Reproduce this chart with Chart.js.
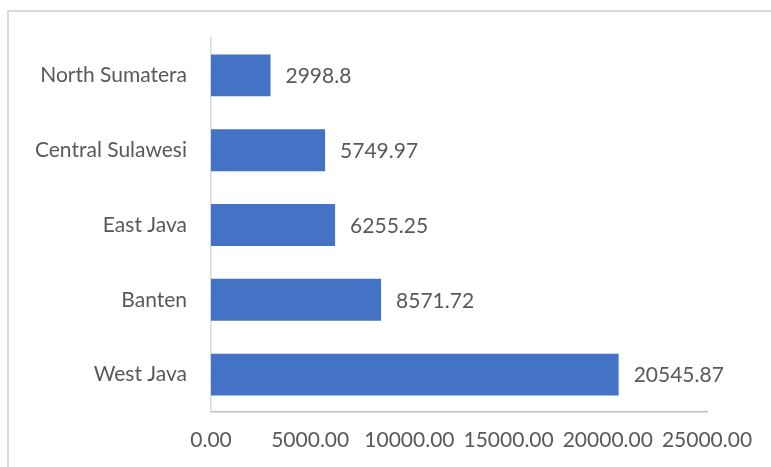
<!DOCTYPE html>
<html>
<head>
<meta charset="utf-8">
<script src="https://cdn.jsdelivr.net/npm/chart.js@4"></script>
<style>
  html, body { margin: 0; padding: 0; background: #fff; }
  #wrap { position: relative; width: 771px; height: 467px; overflow: hidden; }
  #frame { position: absolute; left: 7px; top: 10px; width: 900px; height: 600px;
           border: 2px solid #d9d9d9; box-sizing: border-box; }
  canvas { position: absolute; left: 0; top: 0; }
</style>
</head>
<body>
<div id="wrap">
  <div id="frame"></div>
  <canvas id="chart" width="771" height="467"></canvas>
</div>
<script>
const provinces = ["North Sumatera", "Central Sulawesi", "East Java", "Banten", "West Java"];
const values = [2998.8, 5749.97, 6255.25, 8571.72, 20545.87];
const valueLabels = ["2998.8", "5749.97", "6255.25", "8571.72", "20545.87"];

const textColor = "#595959";
const fontFamily = "Lato, 'Open Sans', sans-serif";

// draws the number to the right of each bar
const barLabels = {
  id: "barLabels",
  afterDatasetsDraw(chart) {
    const ctx = chart.ctx;
    const meta = chart.getDatasetMeta(0);
    ctx.save();
    ctx.fillStyle = textColor;
    ctx.font = "21px " + fontFamily;
    ctx.textBaseline = "middle";
    ctx.textAlign = "left";
    meta.data.forEach((bar, i) => {
      ctx.fillText(valueLabels[i], bar.x + 15, bar.y + 1);
    });
    ctx.restore();
  }
};

new Chart(document.getElementById("chart"), {
  type: "bar",
  data: {
    labels: provinces,
    datasets: [{
      data: values,
      backgroundColor: "#4472C4",
      categoryPercentage: 0.56,
      barPercentage: 1.0
    }]
  },
  options: {
    indexAxis: "y",
    responsive: false,
    animation: false,
    layout: { padding: { top: 38, right: 64, bottom: 0, left: 0 } },
    plugins: { legend: { display: false }, tooltip: { enabled: false } },
    scales: {
      x: {
        min: 0,
        max: 25000,
        ticks: {
          stepSize: 5000,
          padding: 16,
          color: textColor,
          font: { family: fontFamily, size: 21 },
          callback: (v) => Number(v).toFixed(2),
          maxRotation: 0
        },
        grid: { display: false, drawTicks: false },
        border: { display: true, color: "#bfbfbf", width: 1.5 },
        afterFit: (scale) => { scale.height = 467 - 412; }
      },
      y: {
        ticks: {
          padding: 24,
          color: textColor,
          font: { family: fontFamily, size: 21 }
        },
        grid: { display: false, drawTicks: false },
        border: { display: true, color: "#d9d9d9", width: 1.5 },
        afterFit: (scale) => { scale.width = 211; }
      }
    }
  },
  plugins: [barLabels]
});
</script>
</body>
</html>
